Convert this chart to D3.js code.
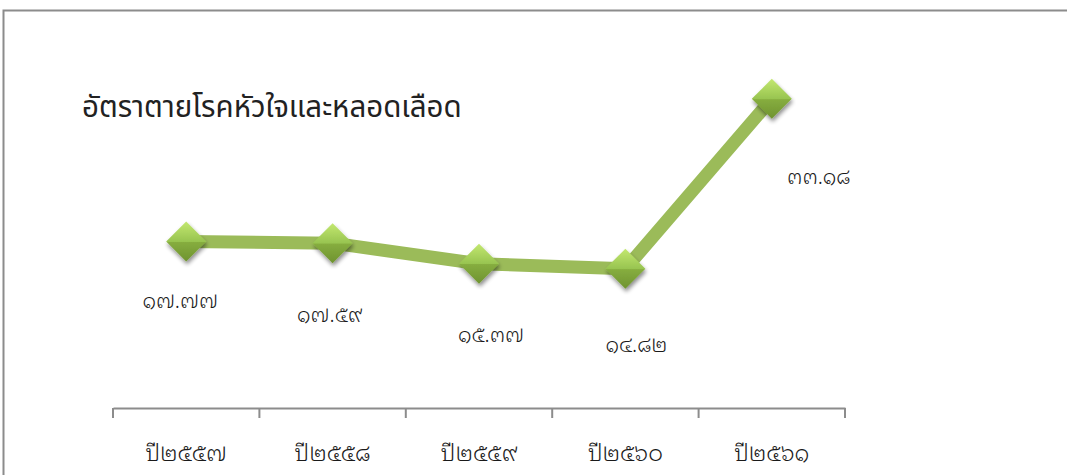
<!DOCTYPE html>
<html>
<head>
<meta charset="utf-8">
<script src="https://cdn.jsdelivr.net/npm/d3@7"></script>
<style>
  html, body { margin: 0; padding: 0; background: #fff; }
  svg { display: block; }
  text { font-family: "Noto Sans Thai Looped", "Noto Sans Thai", sans-serif; fill: #1a1a1a; font-weight: 300; }
  text.title { font-family: "Noto Sans Thai", "Noto Sans Thai Looped", sans-serif; font-weight: 400; }
</style>
</head>
<body>
<svg id="chart" width="1067" height="475"></svg>
<script>
// Heart and vascular disease death rate by year
const categories = ["ปี๒๕๕๗", "ปี๒๕๕๘", "ปี๒๕๕๙", "ปี๒๕๖๐", "ปี๒๕๖๑"];
const values = [17.77, 17.59, 15.37, 14.82, 33.18];
const valueLabels = ["๑๗.๗๗", "๑๗.๕๙", "๑๕.๓๗", "๑๔.๘๒", "๓๓.๑๘"];
const title = "อัตราตายโรคหัวใจและหลอดเลือด";

// label placement relative to each point (dx, dy)
const labelNudge = [[-6, 66], [-3, 79], [12, 78], [11, 83], [47, 85]];

const svg = d3.select("#chart");
const W = 1067, H = 475;

// outer frame
svg.append("rect")
  .attr("x", 3.5).attr("y", 10.5)
  .attr("width", W + 10).attr("height", H)
  .attr("fill", "none").attr("stroke", "#8c8c8c").attr("stroke-width", 2);

const x = d3.scaleBand().domain(categories).range([113, 845]).padding(0);
const y = d3.scaleLinear().domain([0, 35]).range([406, 82]);
const cx = d => x(d) + x.bandwidth() / 2;

// title
svg.append("text")
  .attr("class", "title")
  .attr("x", 82).attr("y", 117)
  .attr("font-size", 29.5)
  .style("fill", "#222")
  .text(title);

// category axis
const axis = d3.axisBottom(x).tickSize(0).tickFormat("");
const gx = svg.append("g").attr("transform", "translate(0,408)").call(axis);
gx.select(".domain").attr("stroke", "#8c8c8c").attr("stroke-width", 2);
const edges = categories.map(c => x(c)).concat([x(categories[categories.length - 1]) + x.bandwidth()]);
gx.selectAll(".sep").data(edges).enter().append("line")
  .attr("x1", d => d).attr("x2", d => d)
  .attr("y1", 0).attr("y2", 10)
  .attr("stroke", "#8c8c8c").attr("stroke-width", 2);
gx.selectAll(".cat").data(categories).enter().append("text")
  .attr("x", d => cx(d)).attr("y", 53)
  .attr("text-anchor", "middle")
  .attr("font-size", 23)
  .text(d => d);

// defs: gradient + shadow for diamond markers
const defs = svg.append("defs");
const grad = defs.append("linearGradient").attr("id", "mk").attr("x1", 0).attr("y1", 0).attr("x2", 0).attr("y2", 1);
grad.append("stop").attr("offset", "0%").attr("stop-color", "#c3e870");
grad.append("stop").attr("offset", "50%").attr("stop-color", "#98c450");
grad.append("stop").attr("offset", "52%").attr("stop-color", "#86ad3f");
grad.append("stop").attr("offset", "100%").attr("stop-color", "#6f9330");
const sh = defs.append("filter").attr("id", "shadow").attr("x", "-50%").attr("y", "-50%").attr("width", "200%").attr("height", "200%");
sh.append("feGaussianBlur").attr("in", "SourceAlpha").attr("stdDeviation", 2.2);
sh.append("feOffset").attr("dx", 1).attr("dy", 3).attr("result", "b");
sh.append("feComponentTransfer").append("feFuncA").attr("type", "linear").attr("slope", 0.45);
const merge = sh.append("feMerge");
merge.append("feMergeNode");
merge.append("feMergeNode").attr("in", "SourceGraphic");

// series line
const line = d3.line().x((d, i) => cx(categories[i])).y(d => y(d));
svg.append("path")
  .datum(values)
  .attr("d", line)
  .attr("fill", "none")
  .attr("stroke", "#9bbb59")
  .attr("stroke-width", 13)
  .attr("stroke-linejoin", "round");

// diamond markers
const s = 20;
svg.selectAll(".marker").data(values).enter().append("path")
  .attr("transform", (d, i) => `translate(${cx(categories[i])},${y(d)})`)
  .attr("d", `M0,${-s}L${s},0L0,${s}L${-s},0Z`)
  .attr("fill", "url(#mk)")
  .attr("filter", "url(#shadow)");

// value labels
svg.selectAll(".val").data(values).enter().append("text")
  .attr("x", (d, i) => cx(categories[i]) + labelNudge[i][0])
  .attr("y", (d, i) => y(d) + labelNudge[i][1])
  .attr("text-anchor", "middle")
  .attr("font-size", 21)
  .text((d, i) => valueLabels[i]);
</script>
</body>
</html>
